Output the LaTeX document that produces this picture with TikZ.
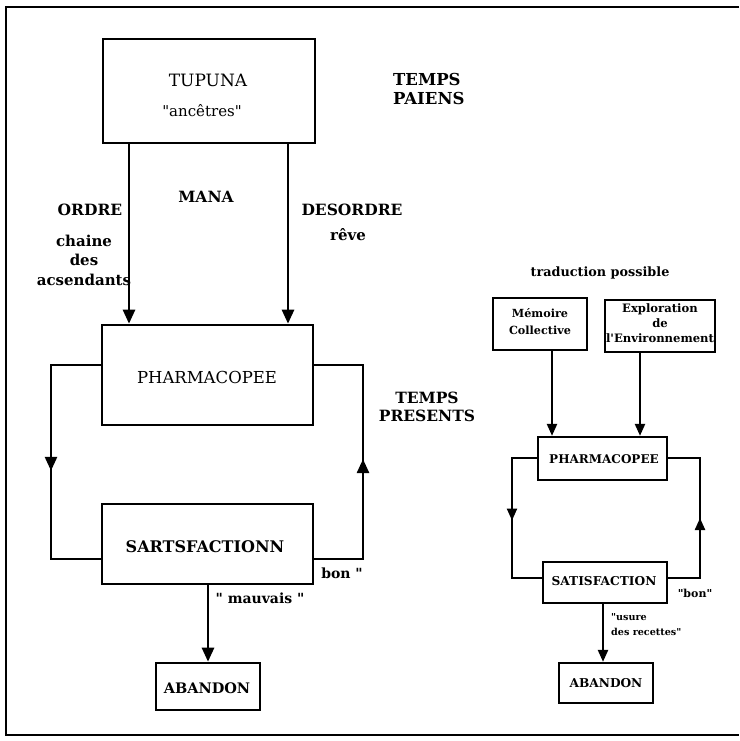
\documentclass[tikz,border=0pt]{standalone}
\usepackage{fontspec}
\setmainfont{DejaVu Serif}[Ligatures=TeXOff]
\usetikzlibrary{arrows.meta,decorations.markings}
\tikzset{
  box/.style={draw,line width=2.6pt,inner sep=0pt,align=center},
  boxs/.style={draw,line width=2.3pt,inner sep=0pt,align=center},
  lbl/.style={inner sep=0pt,align=center},
  arr/.style={line width=2.6pt,-{Triangle[length=14pt,width=12pt]}},
  arrs/.style={line width=2.3pt,-{Triangle[length=12pt,width=10pt]}},
  midarr/.style={line width=2.6pt,decoration={markings,mark=at position #1 with {\arrow{Triangle[length=14pt,width=12pt]}}},postaction={decorate}},
  midarrs/.style={line width=2.3pt,decoration={markings,mark=at position #1 with {\arrow{Triangle[length=12pt,width=10pt]}}},postaction={decorate}},
}
\begin{document}
\begin{tikzpicture}[x=1pt,y=-1pt]
\useasboundingbox (0,0) rectangle (739,741);
% frame
\draw[line width=2pt] (739,7) -- (6,7) -- (6,735) -- (739,735);

% ---------- left diagram ----------
\node[box,minimum width=212pt,minimum height=104pt] (tup) at (209,91) {};
\node[lbl,font=\fontsize{17}{17}\selectfont] (tupt) at (208,80) {TUPUNA};
\node[lbl,font=\fontsize{15}{15}\selectfont] (anc) at (202,111) {"ancêtres"};
\node[lbl,font=\bfseries\fontsize{16.5}{19}\selectfont,align=left,anchor=west] (tpa) at (393,89) {TEMPS\\PAIENS};

\node[box,minimum width=211pt,minimum height=100pt] (ph) at (207.5,375) {};
\node[lbl,font=\fontsize{16.5}{16.5}\selectfont] (pht) at (207,377) {PHARMACOPEE};
\node[lbl,font=\bfseries\fontsize{15.5}{18}\selectfont,align=center] (tpr) at (427,407) {TEMPS\\PRESENTS};

\node[box,minimum width=211pt,minimum height=80pt] (sat) at (207.5,544) {};
\node[lbl,font=\bfseries\fontsize{16}{16}\selectfont] (satt) at (205,547) {SARTSFACTIONN};

\node[box,minimum width=104pt,minimum height=47pt] (ab) at (208,686.5) {};
\node[lbl,font=\bfseries\fontsize{14.5}{14.5}\selectfont] (abt) at (207,688) {ABANDON};

\coordinate (a1) at (129,0);
\coordinate (a2) at (288,0);
\draw[arr] (tup.south -| a1) -- (ph.north -| a1);
\draw[arr] (tup.south -| a2) -- (ph.north -| a2);

\node[lbl,font=\bfseries\fontsize{15.5}{15.5}\selectfont] (mana) at (206,197) {MANA};
\node[lbl,font=\bfseries\fontsize{15.5}{15.5}\selectfont] (ordre) at (90,210) {ORDRE};
\node[lbl,font=\bfseries\fontsize{15}{19.5}\selectfont] (chaine) at (84,260) {chaine\\des\\acsendants};
\node[lbl,font=\bfseries\fontsize{15.5}{15.5}\selectfont] (desordre) at (352,210) {DESORDRE};
\node[lbl,font=\bfseries\fontsize{15}{15}\selectfont] (reve) at (348,235) {rêve};

\coordinate (L1) at (51,365);
\coordinate (L2) at (51,559);
\coordinate (R1) at (363,365);
\coordinate (R2) at (363,559);
\draw[midarr=0.53] (ph.west |- L1) -- (L1) -- (L2) -- (sat.west |- L2);
\draw[midarr=0.51] (sat.east |- R2) -- (R2) -- (R1) -- (ph.east |- R1);
\coordinate (a3) at (208,0);
\draw[arr] (sat.south -| a3) -- (ab.north -| a3);
\node[lbl,font=\bfseries\fontsize{14}{14}\selectfont] (bon) at (342,573) {bon "};
\node[lbl,font=\bfseries\fontsize{14}{14}\selectfont] (mauv) at (260,598) {" mauvais "};

% ---------- right diagram ----------
\node[lbl,font=\bfseries\fontsize{12.8}{12.8}\selectfont] (trad) at (600,273) {traduction possible};
\node[boxs,minimum width=94pt,minimum height=52pt] (mem) at (540,324) {};
\node[lbl,font=\bfseries\fontsize{11.2}{17}\selectfont] (memt) at (540,322) {Mémoire\\Collective};
\node[boxs,minimum width=110pt,minimum height=52pt] (exp) at (660,326) {};
\node[lbl,font=\bfseries\fontsize{11.6}{15}\selectfont] (expt) at (660,323) {Exploration\\de\\l'Environnement};

\node[boxs,minimum width=129pt,minimum height=43pt] (ph2) at (602.5,458.5) {};
\node[lbl,font=\bfseries\fontsize{12}{12}\selectfont] (ph2t) at (604,459) {PHARMACOPEE};
\node[boxs,minimum width=124pt,minimum height=41pt] (sat2) at (605,582.5) {};
\node[lbl,font=\bfseries\fontsize{12.2}{12.2}\selectfont] (sat2t) at (604,581) {SATISFACTION};
\node[boxs,minimum width=94pt,minimum height=40pt] (ab2) at (606,683) {};
\node[lbl,font=\bfseries\fontsize{12.2}{12.2}\selectfont] (ab2t) at (606,683) {ABANDON};

\coordinate (b1) at (552,0);
\coordinate (b2) at (640,0);
\draw[arrs] (mem.south -| b1) -- (ph2.north -| b1);
\draw[arrs] (exp.south -| b2) -- (ph2.north -| b2);
\coordinate (L3) at (512,458);
\coordinate (L4) at (512,578);
\coordinate (R3) at (700,458);
\coordinate (R4) at (700,578);
\draw[midarrs=0.5] (ph2.west |- L3) -- (L3) -- (L4) -- (sat2.west |- L4);
\draw[midarrs=0.5] (sat2.east |- R4) -- (R4) -- (R3) -- (ph2.east |- R3);
\coordinate (b3) at (603,0);
\draw[arrs] (sat2.south -| b3) -- (ab2.north -| b3);
\node[lbl,font=\bfseries\fontsize{11}{11}\selectfont] (bon2) at (695,593) {"bon"};
\node[lbl,font=\bfseries\fontsize{9.6}{15}\selectfont,align=left,anchor=north west] (usure) at (611,613) {"usure\\des recettes"};
\end{tikzpicture}
\end{document}
